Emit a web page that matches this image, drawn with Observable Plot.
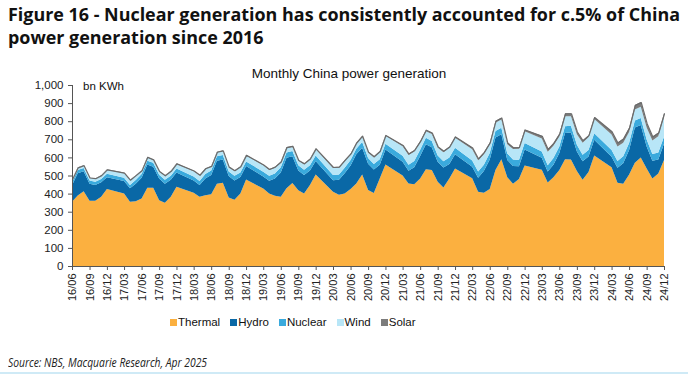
<!DOCTYPE html>
<html>
<head>
<meta charset="utf-8">
<script src="https://cdn.jsdelivr.net/npm/d3@7"></script>
<script src="https://cdn.jsdelivr.net/npm/@observablehq/plot@0.6"></script>
<style>
  html, body { margin: 0; padding: 0; background: #fff; }
  body { width: 688px; height: 375px; position: relative; overflow: hidden; font-family: "Liberation Sans", Arial, sans-serif; }
  .abs { position: absolute; white-space: nowrap; }
  #title { left: 8px; top: 3px; font-family: "Open Sans", "Noto Sans", sans-serif; font-weight: 700; font-size: 18px; line-height: 23px; color: #111; }
  #title span { display: inline-block; transform-origin: 0 0; }
  #sub { left: 0; width: 698px; text-align: center; top: 66px; font-family: "Liberation Sans Narrow", "Liberation Sans", Arial, sans-serif; font-size: 13.5px; color: #111; }
  #unit { left: 83px; top: 80px; font-size: 11.5px; color: #111; }
  #chart { left: 0; top: 60px; }
  #legend { left: 170px; top: 316px; font-family: "Liberation Sans Narrow", "Liberation Sans", Arial, sans-serif; font-size: 11.5px; color: #111; display: flex; gap: 10px; align-items: center; }
  #legend .it { display: flex; align-items: center; gap: 1px; }
  #legend .sw { width: 7px; height: 7px; display: inline-block; }
  #source { left: 8px; top: 353px; font-family: "Open Sans", "Noto Sans", sans-serif; font-style: italic; font-size: 13px; color: #222; transform-origin: 0 0; }
  #rule { left: 0; top: 372px; width: 688px; height: 2px; background: #cfeaf6; }
</style>
</head>
<body>
<div id="title" class="abs"><span id="t1">Figure 16 - Nuclear generation has consistently accounted for c.5% of China</span><br><span id="t2">power generation since 2016</span></div>
<div id="sub" class="abs">Monthly China power generation</div>
<div id="chart" class="abs"></div>
<div id="unit" class="abs">bn KWh</div>
<div id="legend" class="abs"></div>
<div id="source" class="abs">Source: NBS, Macquarie Research, Apr 2025</div>
<div id="rule" class="abs"></div>
<script>
// Months shown (Jan/Feb are not reported separately, so the series runs Dec -> Mar)
const months = [
  "16/06","16/07","16/08","16/09","16/10","16/11","16/12",
  "17/03","17/04","17/05","17/06","17/07","17/08","17/09","17/10","17/11","17/12",
  "18/03","18/04","18/05","18/06","18/07","18/08","18/09","18/10","18/11","18/12",
  "19/03","19/04","19/05","19/06","19/07","19/08","19/09","19/10","19/11","19/12",
  "20/03","20/04","20/05","20/06","20/07","20/08","20/09","20/10","20/11","20/12",
  "21/03","21/04","21/05","21/06","21/07","21/08","21/09","21/10","21/11","21/12",
  "22/03","22/04","22/05","22/06","22/07","22/08","22/09","22/10","22/11","22/12",
  "23/03","23/04","23/05","23/06","23/07","23/08","23/09","23/10","23/11","23/12",
  "24/03","24/04","24/05","24/06","24/07","24/08","24/09","24/10","24/11","24/12"
];
const thermal = [
  355,390,413,361,360,382,425,
  400,355,358,373,433,432,363,350,382,438,
  405,383,391,396,455,460,378,366,400,478,
  428,400,388,382,430,458,418,400,447,506,
  410,393,400,425,456,505,420,404,483,561,
  500,456,452,483,535,530,465,434,483,539,
  485,410,405,425,530,590,490,455,480,555,
  532,462,490,530,590,588,525,476,520,610,
  545,460,454,506,570,600,539,483,511,585
];
const hydro = [
  91,122,111,94,88,81,66,
  69,74,97,115,128,117,120,105,95,78,
  67,64,93,107,127,128,119,107,92,74,
  67,71,95,135,168,148,109,103,80,74,
  64,83,113,130,161,149,145,129,76,82,
  76,70,94,125,138,126,111,110,81,79,
  63,77,120,164,180,138,96,97,71,88,
  66,60,70,94,145,150,108,103,85,87,
  59,83,114,135,195,179,121,98,78,90
];
const nuclear = [
  17,18,18,18,18,18,19,
  19,19,20,20,21,21,21,21,21,22,
  22,23,24,24,25,25,25,25,25,26,
  26,27,28,28,29,29,29,29,29,30,
  29,29,30,30,31,31,31,31,31,32,
  33,33,34,34,35,35,35,35,35,35,
  35,35,35,35,36,36,36,36,35,36,
  35,35,36,36,37,37,37,36,36,37,
  37,37,38,38,39,39,39,38,38,39
];
const wind = [
  14,13,13,14,17,19,22,
  25,26,24,18,18,16,18,22,25,26,
  30,30,28,22,20,22,23,27,30,32,
  35,33,32,26,24,23,25,30,34,36,
  38,38,36,30,27,28,30,36,40,44,
  52,54,52,40,36,38,42,50,54,56,
  62,62,58,48,45,45,50,58,62,66,
  72,74,68,56,55,52,58,66,70,78,
  85,80,75,62,60,62,66,74,90,110
];
const solar = [
  2,2,2,2,2,2,2,
  3,3,3,3,3,3,3,3,3,3,
  4,4,4,4,4,4,4,4,4,4,
  5,5,6,6,6,6,5,5,4,4,
  6,6,7,7,7,7,6,6,5,5,
  8,8,9,9,9,9,8,8,7,7,
  10,10,11,11,11,11,10,10,9,9,
  14,15,16,16,17,17,15,14,12,11,
  18,22,24,24,26,26,24,22,20,20
];
const seriesNames = ["Thermal","Hydro","Nuclear","Wind","Solar"];
const seriesColors = ["#FBB040","#0A68A6","#3AAADD","#B8E6F7","#7C7C7C"];

const parseMonth = s => new Date(Date.UTC(2000 + +s.slice(0,2), +s.slice(3,5) - 1, 1));
const allValues = [thermal, hydro, nuclear, wind, solar];
const rows = seriesNames.flatMap((name, k) => months.map((m, i) => ({date: parseMonth(m), series: name, value: allValues[k][i]})));
const totals = months.map((m, i) => ({date: parseMonth(m), total: allValues.reduce((s, a) => s + a[i], 0)}));
const tickDates = months.filter(m => [3,6,9,12].includes(+m.slice(3,5))).map(parseMonth);
const x0 = parseMonth(months[0]), x1 = parseMonth(months[months.length - 1]);

const chart = Plot.plot({
  width: 688,
  height: 246,
  marginTop: 25,
  marginLeft: 72,
  marginRight: 24,
  marginBottom: 40,
  style: {fontFamily: "'Liberation Sans', Arial, sans-serif", fontSize: "11px", color: "#222", background: "transparent"},
  x: {type: "utc", domain: [x0, x1]},
  y: {domain: [0, 1000]},
  color: {domain: seriesNames, range: seriesColors},
  marks: [
    Plot.areaY(rows, {x: "date", y: "value", fill: "series", order: seriesNames, curve: "linear"}),
    Plot.lineY(totals, {x: "date", y: "total", stroke: "#6a6a6a", strokeWidth: 1.2}),
    Plot.ruleY([0], {stroke: "#555"}),
    Plot.ruleX([x0], {stroke: "#555"}),
    Plot.axisY({ticks: d3.range(0, 1001, 100), tickFormat: d3.format(","), tickSize: 4, tickPadding: 5, label: null, fontFamily: "'Liberation Sans Narrow', 'Liberation Sans', Arial", fontSize: 11.5, stroke: "#555"}),
    Plot.axisX({ticks: tickDates, tickFormat: d3.utcFormat("%y/%m"), tickRotate: -90, tickSize: 4, tickPadding: 3, label: null, fontSize: 11, stroke: "#555"})
  ]
});
document.getElementById("chart").appendChild(chart);

const legend = document.getElementById("legend");
seriesNames.forEach((name, k) => {
  const it = document.createElement("div");
  it.className = "it";
  it.innerHTML = `<span class="sw" style="background:${seriesColors[k]}"></span><span>${name}</span>`;
  legend.appendChild(it);
});

// fit title lines and source to the reference widths
const t1 = document.getElementById("t1"), t2 = document.getElementById("t2");
const sc = 672 / t1.getBoundingClientRect().width;
t1.style.transform = `scaleX(${sc})`;
t2.style.transform = `scaleX(${sc})`;
const src = document.getElementById("source");
src.style.transform = `scaleX(${199 / src.getBoundingClientRect().width})`;
</script>
</body>
</html>
